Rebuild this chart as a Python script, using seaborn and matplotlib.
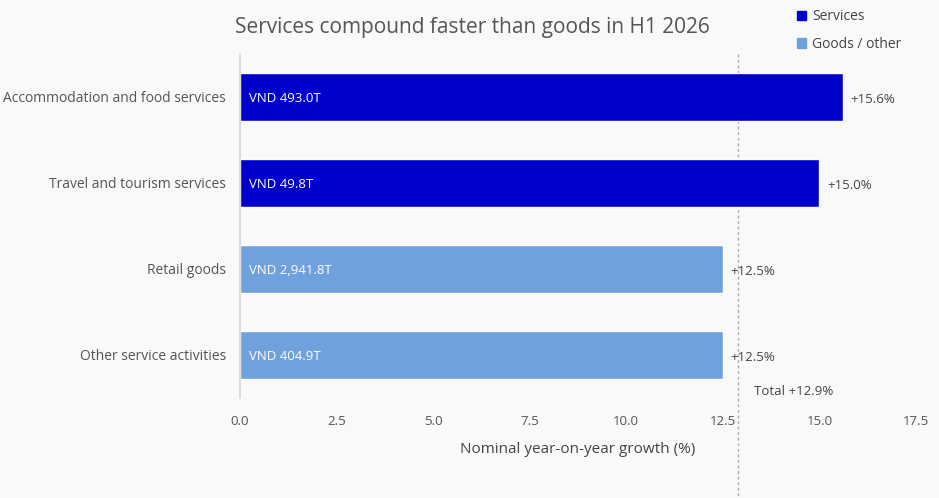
import pandas as pd
import matplotlib.pyplot as plt
import seaborn as sns
from matplotlib.patches import Patch

# data
categories = ["Accommodation and food services", "Travel and tourism services",
              "Retail goods", "Other service activities"]
growth = [15.6, 15.0, 12.5, 12.5]
groups = ["Services", "Services", "Goods / other", "Goods / other"]
sales_labels = ["VND 493.0T", "VND 49.8T", "VND 2,941.8T", "VND 404.9T"]
total_growth = 12.9

df = pd.DataFrame({"category": categories, "growth": growth, "group": groups})
palette = {"Services": "#0000CC", "Goods / other": "#70A1DC"}
bg = "#F9F9F9"
txt = "#444444"

sns.set_theme(style="white")
plt.rcParams["font.family"] = ["Open Sans", "DejaVu Sans"]

fig = plt.figure(figsize=(9.39, 4.98), dpi=100, facecolor=bg)
ax = fig.add_axes([240 / 939, 1 - 398 / 498, (916 - 240) / 939, (398 - 54) / 498])
ax.set_facecolor(bg)

sns.barplot(data=df, y="category", x="growth", hue="group", palette=palette,
            dodge=False, width=0.56, orient="h", legend=False, saturation=1, ax=ax)

ax.set_xlim(0, 17.5)
ax.set_xticks([0, 2.5, 5, 7.5, 10, 12.5, 15, 17.5])
ax.set_xticklabels([f"{v:.1f}" for v in ax.get_xticks()])
ax.tick_params(axis="x", colors="#555555", labelsize=9.5, length=0, pad=12)
ax.tick_params(axis="y", colors="#555555", labelsize=10, length=0, pad=10)
ax.set_ylabel("")
ax.set_xlabel("Nominal year-on-year growth (%)", fontsize=11, color=txt, labelpad=10)
for side in ["top", "right", "bottom"]:
    ax.spines[side].set_visible(False)
ax.spines["left"].set_color("#D6D6D6")
ax.spines["left"].set_linewidth(1.2)

for i, (g, lab) in enumerate(zip(growth, sales_labels)):
    ax.text(0.23, i + 0.02, lab, color="white", va="center", ha="left", fontsize=9.5)
    ax.text(g + 0.2, i + 0.03, f"+{g:.1f}%", color=txt, va="center", ha="left", fontsize=9.5)

# total reference line, running past the bottom of the axes
ax.plot([total_growth, total_growth], [-0.5, 4.7], ls=(0, (2, 2)), color="#AAAAAA",
        lw=1, clip_on=False, zorder=0)
ax.set_ylim(3.5, -0.5)
ax.text(total_growth + 0.4, 3.42, f"Total +{total_growth:.1f}%", color=txt,
        fontsize=9.5, ha="left", va="center")

fig.text(472 / 939, 1 - 28 / 498, "Services compound faster than goods in H1 2026",
         ha="center", va="center", fontsize=15, color="#555555")

handles = [Patch(color=palette[k], label=k) for k in palette]
fig.legend(handles=handles, loc="upper left", bbox_to_anchor=(784 / 939, 1 + 3 / 498),
           frameon=False, fontsize=10, handlelength=0.7, handleheight=0.7,
           handletextpad=0.4, labelspacing=0.9, labelcolor=txt)

fig.savefig("out.png", dpi=100, facecolor=bg)
